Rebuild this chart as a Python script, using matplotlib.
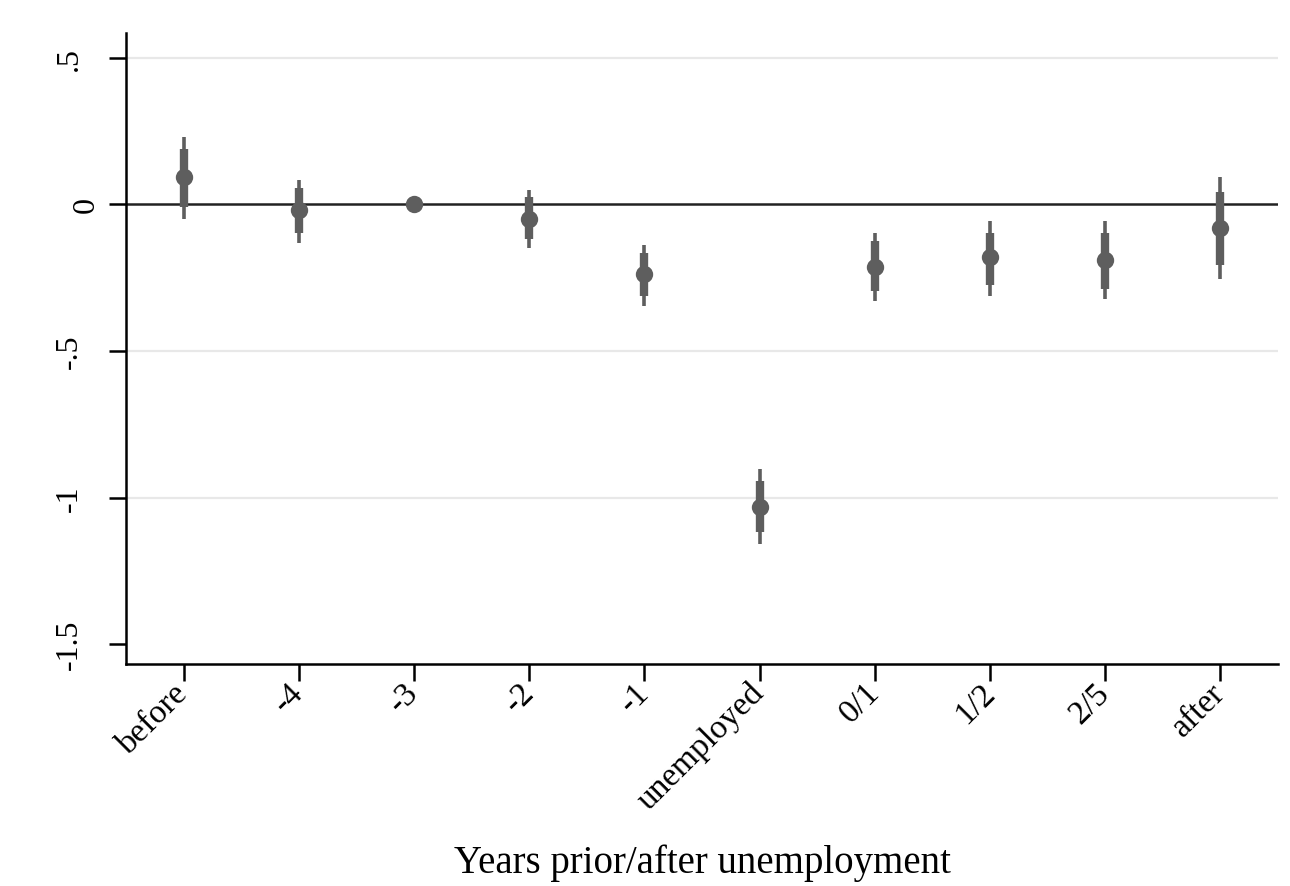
import matplotlib
matplotlib.use("Agg")
import matplotlib.pyplot as plt
import matplotlib.transforms as mtransforms
import numpy as np

categories = ["before", "-4", "-3", "-2", "-1", "unemployed", "0/1", "1/2", "2/5", "after"]
coef = [0.092, -0.020, 0.0, -0.048, -0.239, -1.031, -0.212, -0.181, -0.191, -0.082]
ci95_lo = [-0.051, -0.130, np.nan, -0.150, -0.345, -1.160, -0.331, -0.311, -0.324, -0.253]
ci95_hi = [0.229, 0.082, np.nan, 0.048, -0.137, -0.901, -0.096, -0.058, -0.058, 0.092]
ci90_lo = [-0.007, -0.099, np.nan, -0.119, -0.314, -1.119, -0.297, -0.276, -0.287, -0.208]
ci90_hi = [0.188, 0.055, np.nan, 0.027, -0.164, -0.942, -0.126, -0.096, -0.099, 0.041]
yticks = [0.5, 0, -0.5, -1, -1.5]
ytick_labels = [".5", "0", "-.5", "-1", "-1.5"]

plt.rcParams['font.family'] = ['Liberation Serif', 'DejaVu Serif']

fig = plt.figure(figsize=(12.9, 8.87), dpi=100)
ax = fig.add_axes([126/1290, 1-665/887, (1278-126)/1290, (665-34)/887])

col = "#5e5e5e"
x = np.arange(len(categories))
for g in [0.5, -0.5, -1]:
    ax.axhline(g, color="#e8e8e8", lw=1.6, zorder=0)
ax.axhline(0, color="#222222", lw=1.8, zorder=1)
ax.vlines(x, ci95_lo, ci95_hi, color=col, lw=2.6, zorder=2)
ax.vlines(x, ci90_lo, ci90_hi, color=col, lw=6, zorder=3)
ax.plot(x, coef, 'o', color=col, ms=12.5, zorder=4, mew=0)

ax.set_xlim(-0.5, 9.5)
ax.set_ylim(-1.568, 0.585)
ax.set_yticks(yticks)
ax.set_yticklabels(ytick_labels, rotation=90, va='center', fontsize=23)
ax.set_xticks(x)
ax.set_xticklabels(categories, rotation=45, ha='right', va='center', rotation_mode='anchor', fontsize=24)
ax.tick_params(axis='x', length=12, width=1.8, color='black', pad=5)
ax.tick_params(axis='y', length=12, width=1.8, color='black', pad=18)
for s in ['top', 'right']:
    ax.spines[s].set_visible(False)
for s in ['left', 'bottom']:
    ax.spines[s].set_linewidth(1.8)
# the "0" label sits closer to the axis in the reference
for lab in ax.get_yticklabels():
    if lab.get_text() == "0":
        lab.set_transform(lab.get_transform() + mtransforms.ScaledTranslation(16/100, 0, fig.dpi_scale_trans))
fig.text((126 + 1278) / 2 / 1290, 1 - 873/887, "Years prior/after unemployment", fontsize=28,
         ha='center', va='baseline')

fig.savefig("out.png", dpi=100)
